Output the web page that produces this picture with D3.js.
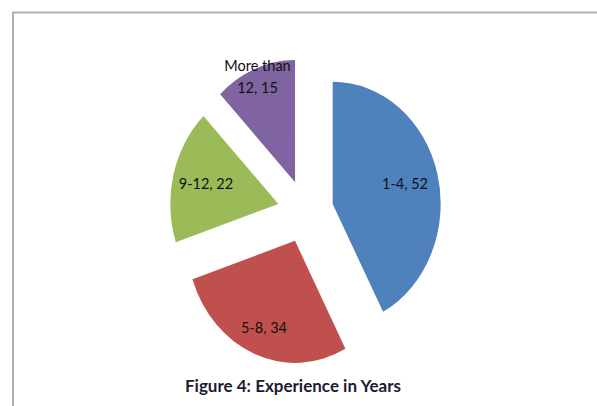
<!DOCTYPE html>
<html>
<head>
<meta charset="utf-8">
<script src="https://cdn.jsdelivr.net/npm/d3@7"></script>
<style>
  body { margin: 0; background: #fff; }
  svg { display: block; }
  .lbl { font-family: Lato, "Open Sans", sans-serif; font-size: 14.5px; fill: #111; }
  .title { font-family: Lato, "Open Sans", sans-serif; font-size: 17px; font-weight: bold; fill: #1b1b30; }
</style>
</head>
<body>
<svg id="chart" width="597" height="406"></svg>
<script>
// data
var categories = ["1-4", "5-8", "9-12", "More than 12"];
var values = [52, 34, 22, 15];
var colors = ["#4f81bd", "#c0504d", "#9bbb59", "#8064a2"];
var title = "Figure 4: Experience in Years";

var W = 597, H = 406;
var CX = 305.5, CY = 211.5;
var R = 108, SY = 1.13;      // pie is a bit taller than wide
var EXPLODE = 28;
// where each label sits along its slice bisector (fraction of radius)
var labelR = [0.69, 0.77, 0.69, 0.93];

var svg = d3.select("#chart");

// frame
svg.append("path")
	.attr("d", "M13," + (H + 2) + "V12.5H" + (W + 2))
	.attr("fill", "none")
	.attr("stroke", "#b0b0b0")
	.attr("stroke-width", 2)

var pie = d3.pie().sort(null).value(function(d){ return d.v })
var arcs = pie(values.map(function(v, i){ return {v: v, c: categories[i]} }))

var arc = d3.arc().innerRadius(0).outerRadius(R)

var g = svg.append("g")
	.attr("transform", "translate(" + CX + "," + CY + ") scale(1," + SY + ")")

function mid(d){ return (d.startAngle + d.endAngle) / 2 }

g.selectAll("path.slice")
	.data(arcs)
	.enter().append("path")
	.attr("class", "slice")
	.attr("d", arc)
	.attr("fill", function(d){ return colors[d.index] })
	.attr("transform", function(d){
		var a = mid(d)
		return "translate(" + (Math.sin(a) * EXPLODE) + "," + (-Math.cos(a) * EXPLODE) + ")"
	})

// labels (drawn unscaled so the text is not stretched)
svg.selectAll("text.lbl")
	.data(arcs)
	.enter().append("text")
	.attr("class", "lbl")
	.attr("text-anchor", "middle")
	.each(function(d){
		var a = mid(d)
		var r = EXPLODE + labelR[d.index] * R
		var x = CX + Math.sin(a) * r
		var y = CY - Math.cos(a) * r * SY
		var txt = d.data.c + ", " + d.data.v
		var lines = [txt]
		// long labels wrap before the last word, like excel does
		if (txt.length > 10) {
			var w = d.data.c.split(" ")
			lines = [w.slice(0, w.length - 1).join(" "), w[w.length - 1] + ", " + d.data.v]
		}
		var t = d3.select(this)
		var lh = 22
		var y0 = y - (lines.length - 1) * lh / 2 + 5
		lines.forEach(function(l, k){
			t.append("tspan").attr("x", x).attr("y", y0 + k * lh).text(l)
		})
	})

svg.append("text")
	.attr("class", "title")
	.attr("x", 293)
	.attr("y", 392)
	.attr("text-anchor", "middle")
	.text(title)
</script>
</body>
</html>
